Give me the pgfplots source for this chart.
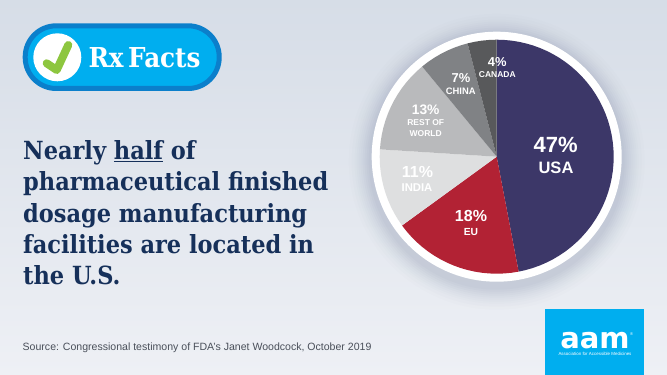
\documentclass[border=0pt]{standalone}
\usepackage{pgfplots}
\pgfplotsset{compat=1.18}
\usepackage{fontspec}
\setmainfont{Liberation Sans}
\newfontfamily\slab{DejaVu Serif Condensed}[BoldFont={DejaVu Serif Condensed Bold}]
\newfontfamily\logo{DejaVu Sans}
\definecolor{navy}{HTML}{16305A}
\definecolor{usa}{HTML}{3C3768}
\definecolor{eu}{HTML}{B22234}
\definecolor{india}{HTML}{DEDFE0}
\definecolor{row}{HTML}{B9BABC}
\definecolor{china}{HTML}{808285}
\definecolor{canada}{HTML}{58595B}
\definecolor{badge}{HTML}{00AEEF}
\definecolor{badgeb}{HTML}{0B7FCB}
\definecolor{check}{HTML}{8DC63F}
\definecolor{bgtop}{HTML}{D6DDE7}
\definecolor{bgbot}{HTML}{EEF0F5}
\definecolor{srctxt}{HTML}{4A4F5A}
\definecolor{shad}{HTML}{5A6A90}
\tikzset{pct/.style={text=white, inner sep=0pt, anchor=base, align=center},
  head/.style={anchor=base west, inner sep=0pt, text=navy, font=\slab\bfseries\fontsize{25}{25}\selectfont}}
\newcommand\sz[1]{\bfseries\fontsize{#1}{#1}\selectfont}
\pgfplotsset{wedge/.style={draw=none, fill=#1, data cs=polar}}
\begin{document}
\begin{tikzpicture}
\begin{axis}[
  width=667pt, height=375pt, scale only axis,
  xmin=-496.7, xmax=170.3, ymin=-218.3, ymax=156.7,
  hide axis, clip=false]
% background (pixel coordinates relative to the pie's centre)
\fill[bottom color=bgbot, top color=bgtop] (axis cs:-496.7,-218.3) rectangle (axis cs:170.3,156.7);
% soft shadow and white ring
\fill[shad, opacity=0.012] (axis cs:0,-5) circle [radius=148];
\fill[shad, opacity=0.014] (axis cs:0,-5) circle [radius=145];
\fill[shad, opacity=0.016] (axis cs:0,-5) circle [radius=142];
\fill[shad, opacity=0.018] (axis cs:0,-5) circle [radius=140];
\fill[shad, opacity=0.02] (axis cs:0,-5) circle [radius=138];
\fill[shad, opacity=0.025] (axis cs:0,-5) circle [radius=136];
\fill[shad, opacity=0.03] (axis cs:0,-5) circle [radius=134];
\fill[shad, opacity=0.03] (axis cs:0,-5) circle [radius=132];
\fill[shad, opacity=0.03] (axis cs:0,-5) circle [radius=130];
\fill[shad, opacity=0.03] (axis cs:0,-5) circle [radius=128];
\fill[white] (axis cs:0,0) circle [radius=125];
% USA 47
\addplot[wedge=usa] coordinates {(0,0)(90,117)(86.4,117)(82.8,117)(79.2,117)(75.6,117)(72,117)(68.4,117)(64.8,117)(61.2,117)(57.6,117)(54,117)(50.4,117)(46.8,117)(43.2,117)(39.6,117)(36,117)(32.4,117)(28.8,117)(25.2,117)(21.6,117)(18,117)(14.4,117)(10.8,117)(7.2,117)(3.6,117)(0,117)(-3.6,117)(-7.2,117)(-10.8,117)(-14.4,117)(-18,117)(-21.6,117)(-25.2,117)(-28.8,117)(-32.4,117)(-36,117)(-39.6,117)(-43.2,117)(-46.8,117)(-50.4,117)(-54,117)(-57.6,117)(-61.2,117)(-64.8,117)(-68.4,117)(-72,117)(-75.6,117)(-79.2,117)} -- cycle;
% EU 18
\addplot[wedge=eu] coordinates {(0,0)(-79.2,117)(-82.8,117)(-86.4,117)(-90,117)(-93.6,117)(-97.2,117)(-100.8,117)(-104.4,117)(-108,117)(-111.6,117)(-115.2,117)(-118.8,117)(-122.4,117)(-126,117)(-129.6,117)(-133.2,117)(-136.8,117)(-140.4,117)(-144,117)} -- cycle;
% India 11
\addplot[wedge=india] coordinates {(0,0)(-144,117)(-147.6,117)(-151.2,117)(-154.8,117)(-158.4,117)(-162,117)(-165.6,117)(-169.2,117)(-172.8,117)(-176.4,117)(-180,117)(-183.6,117)} -- cycle;
% Rest of world 13
\addplot[wedge=row] coordinates {(0,0)(-183.6,117)(-187.2,117)(-190.8,117)(-194.4,117)(-198,117)(-201.6,117)(-205.2,117)(-208.8,117)(-212.4,117)(-216,117)(-219.6,117)(-223.2,117)(-226.8,117)(-230.4,117)} -- cycle;
% China 7
\addplot[wedge=china] coordinates {(0,0)(-230.4,117)(-234,117)(-237.6,117)(-241.2,117)(-244.8,117)(-248.4,117)(-252,117)(-255.6,117)} -- cycle;
% Canada 4
\addplot[wedge=canada] coordinates {(0,0)(-255.6,117)(-259.2,117)(-262.8,117)(-266.4,117)(-270,117)} -- cycle;
% slice labels
\node[pct, font=\sz{22}] at (axis cs:59,4.4) {47\%};
\node[pct, font=\sz{16.5}] at (axis cs:59.3,-17.3) {USA};
\node[pct, font=\sz{16}] at (axis cs:-25.7,-65.3) {18\%};
\node[pct, font=\sz{10.3}] at (axis cs:-25.7,-79.3) {EU};
\node[pct, font=\sz{16}] at (axis cs:-79.2,-21.3) {11\%};
\node[pct, font=\sz{11.3}] at (axis cs:-79.7,-35.3) {INDIA};
\node[pct, font=\sz{13.8}] at (axis cs:-71,42.4) {13\%};
\node[pct, font=\sz{8.5}] at (axis cs:-71,31.4) {REST OF};
\node[pct, font=\sz{8.5}] at (axis cs:-71,19.7) {WORLD};
\node[pct, font=\sz{12.9}] at (axis cs:-35.7,73.7) {7\%};
\node[pct, font=\sz{9.4}] at (axis cs:-36,62) {CHINA};
\node[pct, font=\sz{12.9}] at (axis cs:0.6,90.4) {4\%};
\node[pct, font=\sz{8.5}] at (axis cs:0.6,78.7) {CANADA};
% badge
\fill[badge, draw=badgeb, line width=5pt, rounded corners=31pt] (axis cs:-471.5,130.9) rectangle (axis cs:-277.5,68.2);
\fill[white] (axis cs:-439.4,99.4) circle [radius=24];
\draw[check, line width=8pt, line cap=round, line join=round] (axis cs:-450,93.4) -- (axis cs:-440,86.7) -- (axis cs:-428.4,111.7);
\node[anchor=base west, inner sep=0pt, text=white, font=\slab\bfseries\fontsize{27.4}{27.4}\selectfont] at (axis cs:-408.4,89.4) {Rx\,Facts};
% headline
\node[head] at (axis cs:-473.7,-2.6) {Nearly \underline{half} of};
\node[head] at (axis cs:-473.7,-34.3) {pharmaceutical finished};
\node[head] at (axis cs:-473.7,-66) {dosage manufacturing};
\node[head] at (axis cs:-473.7,-97.3) {facilities are located in};
\node[head] at (axis cs:-473.7,-128.3) {the U.S.};
% source
\node[anchor=base west, inner sep=0pt, text=srctxt, font=\fontsize{10.55}{10.55}\selectfont] at (axis cs:-474.2,-194.3) {Source: Congressional testimony of FDA’s Janet Woodcock, October 2019};
% logo
\fill[badge] (axis cs:48.6,-152.3) rectangle (axis cs:147.6,-218.3);
\node[anchor=base, inner sep=0pt, text=white, font=\logo\bfseries\fontsize{29}{29}\selectfont] at (axis cs:98.3,-191.3) {aam};
\node[anchor=base, inner sep=0pt, text=white, font=\fontsize{4.45}{4.45}\selectfont] at (axis cs:98.3,-198.7) {Association for Accessible Medicines};
\node[anchor=center, inner sep=0pt, text=white, font=\fontsize{4}{4}\selectfont] at (axis cs:135,-177) {®};
\end{axis}
\end{tikzpicture}
\end{document}
